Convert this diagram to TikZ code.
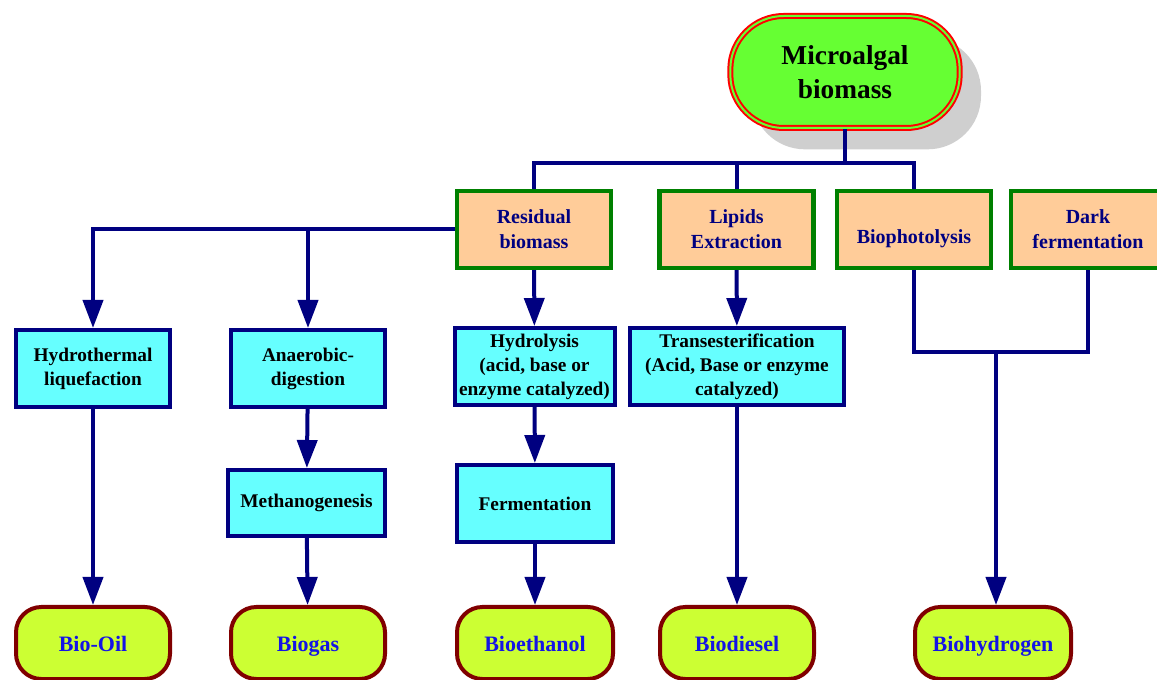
\documentclass[tikz,border=0pt]{standalone}
\usepackage{fontspec}
\setmainfont{Liberation Serif}
\usetikzlibrary{arrows.meta}
\usetikzlibrary{shadows}

\definecolor{algagreen}{HTML}{66FF33}
\definecolor{peach}{HTML}{FFCC99}
\definecolor{darkgreen}{HTML}{008000}
\definecolor{aqua}{HTML}{66FFFF}
\definecolor{navy}{HTML}{000080}
\definecolor{lime}{HTML}{CCFF33}
\definecolor{maroon}{HTML}{800000}
\definecolor{fuelblue}{RGB}{20,20,230}

\begin{document}
\begin{tikzpicture}[x=0.75pt, y=-0.75pt, line width=3pt, navy]
        \tikzset{
          >={Triangle[length=21pt, width=15pt]},
          source/.style={
            draw=red, double=algagreen, double distance=1.5pt, line width=1.5pt,
            fill=algagreen, rounded corners=40pt,
            minimum width=172pt, minimum height=84pt, inner sep=0pt,
            align=center, text=black,
            font=\fontsize{20.5}{25}\selectfont\bfseries,
            drop shadow={shadow xshift=16pt, shadow yshift=-16pt,
              fill=black!19, opacity=1},
          },
          route/.style={
            draw=darkgreen, fill=peach, line width=3.2pt,
            minimum width=115.5pt, minimum height=57.75pt, inner sep=0pt,
            align=center, text=navy,
            font=\fontsize{15}{18.75}\selectfont\bfseries,
          },
          process/.style={
            draw=navy, fill=aqua, line width=3pt,
            minimum width=115.5pt, minimum height=57.75pt, inner sep=0pt,
            align=center, text=black,
            font=\fontsize{14.5}{18}\selectfont\bfseries,
          },
          fuel/.style={
            draw=maroon, fill=lime, line width=3pt, rounded corners=19pt,
            minimum width=115.5pt, minimum height=54pt, inner sep=0pt,
            text=fuelblue, text height=14pt, text depth=1.5pt,
            font=\fontsize{16.5}{20}\selectfont\bfseries,
          },
        }
        \useasboundingbox (0,0) rectangle (1157,680);

        \node[source] (mb) at (845,72) {Microalgal\\biomass};

        \node[route] (res) at (534,229.5) {Residual\\biomass};
        \node[route] (lip) at (736.5,229.5) {Lipids\\Extraction};
        \node[route] (bph) at (914,229.5) {\raisebox{-10.5pt}[0pt][0pt]{Biophotolysis}};
        \node[route] (dark) at (1088,229.5) {Dark\\fermentation};

        \node[process] (hth) at (93,368.5) {Hydrothermal\\liquefaction};
        \node[process] (ana) at (308,368.5) {Anaerobic-\\digestion};
        \node[process, minimum width=120pt] (hyd) at (534.5,366.5)
          {Hydrolysis\\(acid, base or\\enzyme catalyzed)};
        \node[process, minimum width=160.5pt] (tra) at (737,366.5)
          {Transesterification\\(Acid, Base or enzyme\\catalyzed)};
        \node[process, minimum width=117.75pt, minimum height=49.5pt] (met) at (306.5,503)
          {Methanogenesis};
        \node[process, minimum width=117pt] (fer) at (535,503.5) {Fermentation};

        \node[fuel] (oil) at (93,643) {Bio-Oil};
        \node[fuel] (gas) at (308,643) {Biogas};
        \node[fuel, minimum width=117pt] (eth) at (535,643) {Bioethanol};
        \node[fuel] (die) at (737,643) {Biodiesel};
        \node[fuel, minimum width=117pt] (hyg) at (993,643) {Biohydrogen};

        \coordinate (j) at (845,163);
        \coordinate (k) at (996,352);

        % from the biomass to the four routes
        \draw (mb.south) -- (mb.south |- j);
        \draw (res.north) |- (bph.north |- j) -- (bph.north);
        \draw (lip.north) -- (lip.north |- j);

        % residual biomass
        \draw[->] (res.west) -| (hth.north);
        \draw[->] (ana.north |- res.west) -- (ana.north);
        \draw[->] (res) edge (hyd) (hth) edge (oil)
          (ana) edge (met) (met) edge (gas)
          (hyd) edge (fer) (fer) edge (eth);

        % lipids
        \draw[->] (lip) edge (tra) (tra) edge (die);

        % hydrogen
        \draw (bph.south) |- (k) -| (dark.south);
        \draw[->] (k) -- (k |- hyg.north);
\end{tikzpicture}
\end{document}
